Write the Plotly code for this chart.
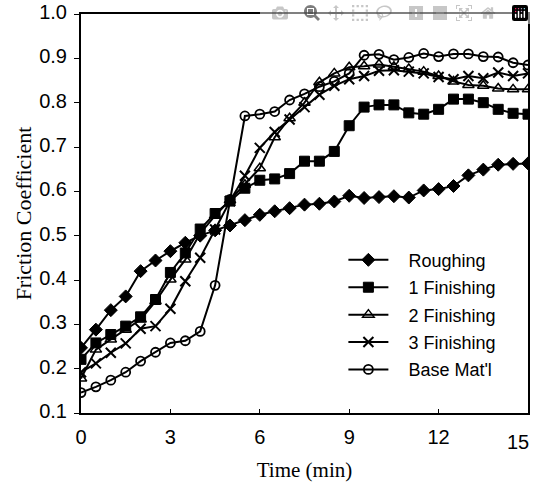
import plotly.graph_objects as go

time_min = [0, 0.5, 1, 1.5, 2, 2.5, 3, 3.5, 4, 4.5, 5, 5.5, 6, 6.5, 7, 7.5, 8, 8.5, 9, 9.5,
            10, 10.5, 11, 11.5, 12, 12.5, 13, 13.5, 14, 14.5, 15]

roughing = [0.247, 0.288, 0.332, 0.363, 0.420, 0.444, 0.465, 0.484, 0.500, 0.512, 0.523, 0.535,
            0.547, 0.555, 0.562, 0.570, 0.572, 0.577, 0.590, 0.585, 0.587, 0.589, 0.586, 0.602,
            0.605, 0.612, 0.636, 0.649, 0.660, 0.662, 0.663]

finishing_1 = [0.221, 0.258, 0.277, 0.296, 0.317, 0.356, 0.417, 0.461, 0.515, 0.550, 0.578, 0.607,
               0.625, 0.628, 0.640, 0.668, 0.668, 0.690, 0.748, 0.790, 0.795, 0.795, 0.777, 0.774,
               0.785, 0.808, 0.808, 0.800, 0.785, 0.776, 0.774]

finishing_2 = [0.178, 0.243, 0.266, 0.288, 0.311, 0.352, 0.401, 0.446, 0.505, 0.545, 0.580, 0.615,
               0.652, 0.722, 0.765, 0.800, 0.846, 0.866, 0.880, 0.882, 0.886, 0.881, 0.876, 0.870,
               0.860, 0.848, 0.840, 0.838, 0.832, 0.830, 0.830]

finishing_3 = [0.192, 0.212, 0.236, 0.257, 0.290, 0.296, 0.335, 0.397, 0.450, 0.514, 0.578, 0.635,
               0.698, 0.734, 0.762, 0.790, 0.818, 0.838, 0.853, 0.860, 0.872, 0.873, 0.870, 0.866,
               0.858, 0.853, 0.860, 0.855, 0.868, 0.860, 0.866]

base_matl = [0.146, 0.159, 0.174, 0.192, 0.217, 0.237, 0.258, 0.263, 0.284, 0.388, 0.582, 0.770,
             0.774, 0.780, 0.806, 0.820, 0.836, 0.848, 0.866, 0.907, 0.909, 0.897, 0.902, 0.911,
             0.904, 0.910, 0.910, 0.904, 0.903, 0.890, 0.885]

series_names = ["Roughing", "1 Finishing", "2 Finishing", "3 Finishing", "Base Mat'l"]
x_ticks = [0, 3, 6, 9, 12, 15]
y_ticks = [0.1, 0.2, 0.3, 0.4, 0.5, 0.6, 0.7, 0.8, 0.9, 1.0]

styles = [
    dict(symbol="diamond", size=10, color="black", line=dict(color="black", width=1)),
    dict(symbol="square", size=10, color="black", line=dict(color="black", width=1)),
    dict(symbol="triangle-up-open", size=10, color="black", line=dict(color="black", width=1.5)),
    dict(symbol="x-thin-open", size=10, color="black", line=dict(color="black", width=2)),
    dict(symbol="circle-open", size=9, color="black", line=dict(color="black", width=1.8)),
]

NBSP = "\u00a0"
fig = go.Figure()
for i, (name, ys, mk) in enumerate(zip(series_names,
                                       [roughing, finishing_1, finishing_2, finishing_3, base_matl],
                                       styles)):
    fig.add_trace(go.Scatter(
        x=time_min, y=ys, name=NBSP * 3 + name, mode="lines+markers",
        legendgroup=f"g{i}",
        line=dict(color="black", width=2),
        marker=mk,
    ))

tick_font = dict(family="Liberation Sans, Arial, sans-serif", size=20, color="black")
axis_common = dict(
    showline=True, linecolor="black", linewidth=2, mirror=True,
    showgrid=False, zeroline=False, tickcolor="black", tickfont=tick_font,
    ticklabeloverflow="allow", automargin=False,
)

fig.update_layout(
    width=534, height=482,
    margin=dict(l=81, r=6, t=14, b=69),
    paper_bgcolor="white", plot_bgcolor="white",
    showlegend=True,
    legend=dict(
        x=0.587, y=0.4295, xanchor="left", yanchor="top",
        bgcolor="rgba(0,0,0,0)", borderwidth=0,
        font=dict(family="Liberation Sans, Arial, sans-serif", size=18, color="black"),
        tracegroupgap=1, itemwidth=40,
    ),
    xaxis=dict(
        range=[0, 15], tickvals=x_ticks,
        ticktext=[str(v) if v != 15 else "" for v in x_ticks],
        title=dict(text="Time (min)", standoff=18,
                   font=dict(family="Liberation Serif, Times New Roman, serif", size=21, color="black")),
        ticks="inside", ticklen=4, ticklabelstandoff=5, **axis_common,
    ),
    yaxis=dict(
        range=[0.1, 1.0], tickvals=y_ticks, ticktext=[f"{v:.1f}" for v in y_ticks],
        title=dict(text="Friction Coefficient", standoff=1,
                   font=dict(family="Liberation Serif, Times New Roman, serif", size=22, color="black")),
        ticks="outside", ticklen=5, ticklabelstandoff=3, ticklabelshift=-2, **axis_common,
    ),
)

# last x tick label sits at the very edge of the figure; place it so it stays fully visible
fig.add_annotation(
    x=1, y=0, xref="paper", yref="paper", text=str(x_ticks[-1]),
    showarrow=False, xanchor="right", yanchor="top", xshift=3, yshift=-16,
    font=tick_font,
)

# remove the default page margin so the 534x482 figure fills the window exactly
fig.write_html("out.html", post_script="document.body.style.margin='0px';")
